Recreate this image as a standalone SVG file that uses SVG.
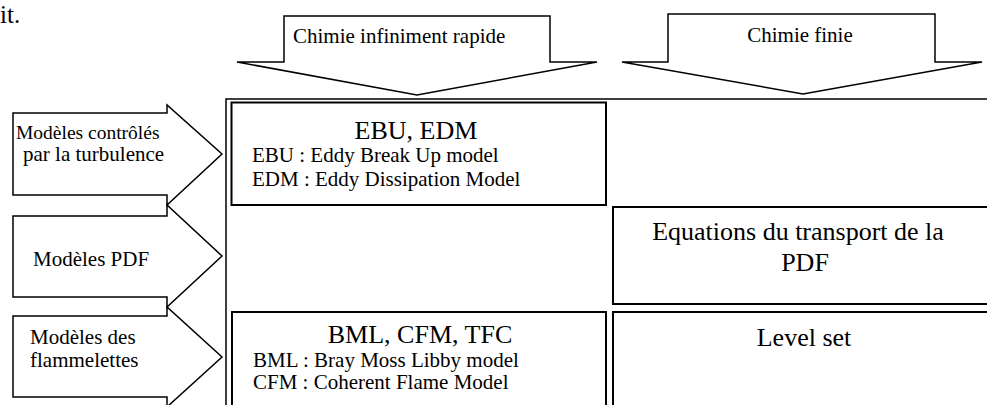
<svg xmlns="http://www.w3.org/2000/svg" width="987" height="405" viewBox="0 0 987 405" font-family="'Times New Roman', 'Liberation Serif', 'DejaVu Serif', serif">
<style>
.ar{fill:#fff;stroke:#000;stroke-width:1.5;stroke-linejoin:miter}
.bx{fill:#fff;stroke:#000;stroke-width:2}
.fr{fill:none;stroke:#000;stroke-width:1.5}
.s{font-size:21px}
.l{font-size:26px}
.m{text-anchor:middle}
</style>
<rect width="987" height="405" fill="#fff"/>
<text x="0" y="23" font-size="25">it.</text>
<g id="frame">
<polyline class="fr" points="226,406 226,99 988,99"/>
</g>
<g id="top-arrow-rapide">
<polygon class="ar" points="284,16 550,16 550,62 597,62 417,95 237,62 284,62"/>
<text class="s" x="293" y="43">Chimie infiniment rapide</text>
</g>
<g id="top-arrow-finie">
<polygon class="ar" points="668,14 935,14 935,62 982,62 803,94 622,62 668,62"/>
<text class="s m" x="800" y="42">Chimie finie</text>
</g>
<g id="left-arrow-turbulence">
<polygon class="ar" points="13,113 167,113 167,105 222,154 167,205 167,195 13,195"/>
<text x="16" y="139" font-size="19.5">Modèles contrôlés</text>
<text class="s" x="23" y="161">par la turbulence</text>
</g>
<g id="left-arrow-pdf">
<polygon class="ar" points="13,216 167,216 167,205 222,256 167,307 167,297 13,297"/>
<text class="s" x="33" y="266">Modèles PDF</text>
</g>
<g id="left-arrow-flamelets">
<polygon class="ar" points="13,316 167,316 167,307 222,357 167,407 167,397 13,397"/>
<text class="s" x="30" y="344">Modèles des</text>
<text class="s" x="30" y="367">flammelettes</text>
</g>
<g id="box-ebu">
<rect class="bx" x="231.5" y="102.5" width="374.5" height="102.5"/>
<text class="l m" x="416" y="139">EBU, EDM</text>
<text class="s" x="252" y="162">EBU : Eddy Break Up model</text>
<text class="s" x="252" y="186">EDM : Eddy Dissipation Model</text>
</g>
<g id="box-pdf">
<rect class="bx" x="613" y="207" width="380" height="97"/>
<text class="l m" x="798" y="240">Equations du transport de la</text>
<text class="l m" x="805" y="271">PDF</text>
</g>
<g id="box-bml">
<rect class="bx" x="232" y="312" width="374" height="100"/>
<text class="l m" x="420" y="343">BML, CFM, TFC</text>
<text class="s" x="253" y="367">BML : Bray Moss Libby model</text>
<text class="s" x="253" y="389">CFM : Coherent Flame Model</text>
</g>
<g id="box-level">
<rect class="bx" x="613" y="312" width="380" height="100"/>
<text class="l m" x="804" y="346">Level set</text>
</g>
<g id="connectors"></g>
</svg>
